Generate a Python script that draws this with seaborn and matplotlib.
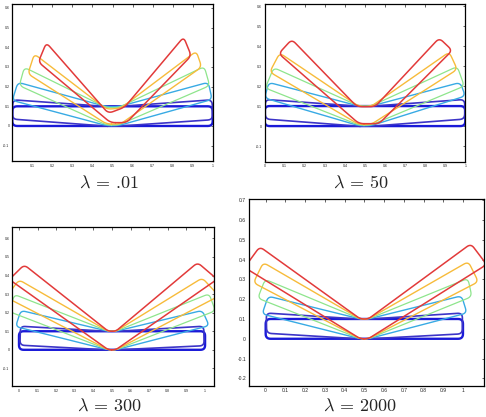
import numpy as np
import pandas as pd
import matplotlib
matplotlib.use("Agg")
import matplotlib.pyplot as plt
import seaborn as sns

# ---------------- data (vertices of each closed outline) ----------------
# vertex order: bottom-centre-left, lower-left end, upper-left end, inner-top-left,
#               inner-top-right, upper-right end, lower-right end, bottom-centre-right
flat_bar = [(0.45, 0.0), (0.0, 0.0), (0.0, 0.1), (0.45, 0.1),
            (0.55, 0.1), (1.0, 0.1), (1.0, 0.0), (0.55, 0.0)]

# lambda = .01
l001_blue = [(0.46, 0.0), (0.0, 0.035), (0.003, 0.133), (0.46, 0.1),
             (0.54, 0.1), (0.997, 0.133), (1.0, 0.032), (0.54, 0.0)]
l001_cyan = [(0.47, 0.002), (0.0, 0.13), (0.028, 0.222), (0.47, 0.098),
             (0.53, 0.098), (0.978, 0.222), (0.997, 0.135), (0.53, 0.002)]
l001_green = [(0.47, 0.005), (0.035, 0.205), (0.06, 0.298), (0.47, 0.093),
              (0.53, 0.093), (0.958, 0.302), (0.985, 0.205), (0.53, 0.005)]
l001_orange = [(0.47, 0.01), (0.078, 0.265), (0.11, 0.366), (0.47, 0.085),
               (0.54, 0.09), (0.918, 0.38), (0.945, 0.3), (0.54, 0.01)]
l001_red = [(0.49, 0.017), (0.13, 0.325), (0.17, 0.423), (0.479, 0.064),
            (0.56, 0.095), (0.855, 0.452), (0.893, 0.357), (0.57, 0.017)]

# lambda = 50
l050_blue = [(0.46, 0.0), (0.003, 0.035), (0.003, 0.133), (0.46, 0.1),
             (0.54, 0.1), (0.997, 0.133), (0.997, 0.035), (0.54, 0.0)]
l050_cyan = [(0.47, 0.002), (0.0, 0.14), (0.02, 0.218), (0.47, 0.1),
             (0.53, 0.1), (0.975, 0.218), (1.0, 0.15), (0.53, 0.002)]
l050_green = [(0.47, 0.005), (0.003, 0.19), (0.045, 0.292), (0.47, 0.1),
              (0.53, 0.1), (0.96, 0.298), (0.995, 0.2), (0.53, 0.005)]
l050_orange = [(0.47, 0.008), (0.025, 0.27), (0.075, 0.365), (0.47, 0.098),
               (0.53, 0.098), (0.92, 0.37), (0.96, 0.283), (0.53, 0.008)]
l050_red = [(0.47, 0.012), (0.07, 0.362), (0.135, 0.433), (0.46, 0.097),
            (0.55, 0.097), (0.87, 0.44), (0.935, 0.378), (0.57, 0.012)]

# lambda = 300
l300_blue = [(0.47, 0.0), (0.005, 0.025), (0.008, 0.127), (0.47, 0.1),
             (0.53, 0.1), (0.993, 0.127), (0.995, 0.022), (0.53, 0.0)]
l300_cyan = [(0.48, 0.0), (-0.018, 0.125), (0.01, 0.212), (0.48, 0.1),
             (0.52, 0.1), (0.985, 0.212), (1.022, 0.13), (0.52, 0.0)]
l300_green = [(0.48, 0.0), (-0.05, 0.205), (-0.025, 0.298), (0.48, 0.1),
              (0.52, 0.1), (1.022, 0.302), (1.055, 0.21), (0.52, 0.0)]
l300_orange = [(0.48, 0.0), (-0.07, 0.283), (0.0, 0.377), (0.48, 0.1),
               (0.52, 0.1), (0.985, 0.387), (1.075, 0.29), (0.52, 0.0)]
l300_red = [(0.48, 0.0), (-0.052, 0.379), (0.028, 0.458), (0.48, 0.1),
            (0.52, 0.1), (0.96, 0.47), (1.065, 0.38), (0.52, 0.0)]

# lambda = 2000
l2000_blue = [(0.47, 0.0), (0.005, 0.028), (0.003, 0.13), (0.47, 0.1),
              (0.53, 0.1), (0.997, 0.13), (0.997, 0.025), (0.53, 0.0)]
l2000_cyan = [(0.48, 0.0), (-0.018, 0.125), (0.013, 0.215), (0.48, 0.1),
              (0.52, 0.1), (0.993, 0.217), (1.02, 0.13), (0.52, 0.0)]
l2000_green = [(0.48, 0.0), (-0.04, 0.205), (-0.003, 0.3), (0.48, 0.1),
               (0.52, 0.1), (1.025, 0.305), (1.045, 0.213), (0.52, 0.0)]
l2000_orange = [(0.48, 0.0), (-0.062, 0.283), (-0.012, 0.385), (0.48, 0.1),
                (0.52, 0.1), (1.027, 0.39), (1.078, 0.288), (0.52, 0.0)]
l2000_red = [(0.48, 0.0), (-0.107, 0.36), (-0.03, 0.465), (0.48, 0.1),
             (0.52, 0.1), (1.04, 0.48), (1.12, 0.375), (0.52, 0.0)]

panel_labels = [r"$\lambda\, =\, .\hspace{-0.2}01$", r"$\lambda\, =\, 50$",
                r"$\lambda\, =\, 300$", r"$\lambda\, =\, 2000$"]
panel_shapes = [
    [flat_bar, l001_blue, l001_cyan, l001_green, l001_orange, l001_red],
    [flat_bar, l050_blue, l050_cyan, l050_green, l050_orange, l050_red],
    [flat_bar, l300_blue, l300_cyan, l300_green, l300_orange, l300_red],
    [flat_bar, l2000_blue, l2000_cyan, l2000_green, l2000_orange, l2000_red],
]
curve_colors = ["#1a1ad8", "#3c34c8", "#38aae4", "#8ee58c", "#f7bb3a", "#e23a3a"]
curve_widths = [1.7, 1.2, 1.0, 0.9, 1.0, 1.1]

x_ticks_std = [0, 0.1, 0.2, 0.3, 0.4, 0.5, 0.6, 0.7, 0.8, 0.9, 1]
x_ticks_p1 = [0.1, 0.2, 0.3, 0.4, 0.5, 0.6, 0.7, 0.8, 0.9, 1]
y_ticks_small = [-0.1, 0, 0.1, 0.2, 0.3, 0.4, 0.5, 0.6]
y_ticks_big = [-0.2, -0.1, 0, 0.1, 0.2, 0.3, 0.4, 0.5, 0.6, 0.7]

# ---------------- layout ----------------
panel_rects = [
    (12.3, 4.0, 212.7, 161.0),
    (264.7, 4.0, 465.3, 161.7),
    (12.3, 227.3, 214.0, 386.0),
    (248.7, 199.0, 483.7, 385.7),
]
panel_xlim = [(0, 1), (0, 1), (-0.036, 1.048), (-0.086, 1.105)]
panel_ylim = [(-0.178, 0.62), (-0.178, 0.61), (-0.195, 0.66), (-0.237, 0.706)]
panel_xticks = [x_ticks_p1, x_ticks_std, x_ticks_std, x_ticks_std]
panel_yticks = [y_ticks_small, y_ticks_small, y_ticks_small, y_ticks_big]
label_pos = [(109, 183), (361, 183), (109, 406), (360, 406)]
tick_fs = [2.6, 2.6, 2.6, 3.6]


def rounded(verts, r=0.025, n=8):
    pts = np.asarray(verts, dtype=float)
    m = len(pts)
    out = []
    t = np.linspace(0, 1, n)[:, None]
    for i in range(m):
        P, A, C = pts[i], pts[i - 1], pts[(i + 1) % m]
        da, dc = A - P, C - P
        la, lc = np.hypot(*da), np.hypot(*dc)
        rr = min(r, 0.45 * la, 0.45 * lc)
        P1 = P + da / la * rr
        P2 = P + dc / lc * rr
        out.append((1 - t) ** 2 * P1 + 2 * (1 - t) * t * P + t ** 2 * P2)
    out = np.vstack(out)
    return np.vstack([out, out[:1]])


def fmt(v):
    if abs(v) < 1e-9:
        return "0"
    if abs(v - 1) < 1e-9:
        return "1"
    return f"{v:.1f}"


sns.set_style("white")
plt.rcParams["font.family"] = ["Liberation Sans", "DejaVu Sans"]
plt.rcParams["mathtext.fontset"] = "cm"

W, H = 486, 417
fig = plt.figure(figsize=(W / 100, H / 100), dpi=100)

for k in range(4):
    x0, y0, x1, y1 = panel_rects[k]
    ax = fig.add_axes([x0 / W, 1 - y1 / H, (x1 - x0) / W, (y1 - y0) / H])
    for shape, col, lw in zip(panel_shapes[k], curve_colors, curve_widths):
        pts = rounded(shape)
        df = pd.DataFrame({"x": pts[:, 0], "y": pts[:, 1]})
        sns.lineplot(data=df, x="x", y="y", sort=False, estimator=None,
                     color=col, linewidth=lw, ax=ax)
    ax.set_xlim(*panel_xlim[k])
    ax.set_ylim(*panel_ylim[k])
    ax.set_xticks(panel_xticks[k])
    ax.set_xticklabels([fmt(v) for v in panel_xticks[k]])
    ax.set_yticks(panel_yticks[k])
    ax.set_yticklabels([fmt(v) for v in panel_yticks[k]])
    ax.set_xlabel("")
    ax.set_ylabel("")
    ax.tick_params(direction="in", length=1.8, width=0.5, labelsize=tick_fs[k],
                   top=True, right=True, pad=2)
    for sp in ax.spines.values():
        sp.set_visible(True)
        sp.set_color("black")
        sp.set_linewidth(0.9)
    lx, ly = label_pos[k]
    fig.text(lx / W, 1 - ly / H, panel_labels[k], ha="center", va="center",
             fontsize=13)

fig.savefig("out.png", dpi=100)
